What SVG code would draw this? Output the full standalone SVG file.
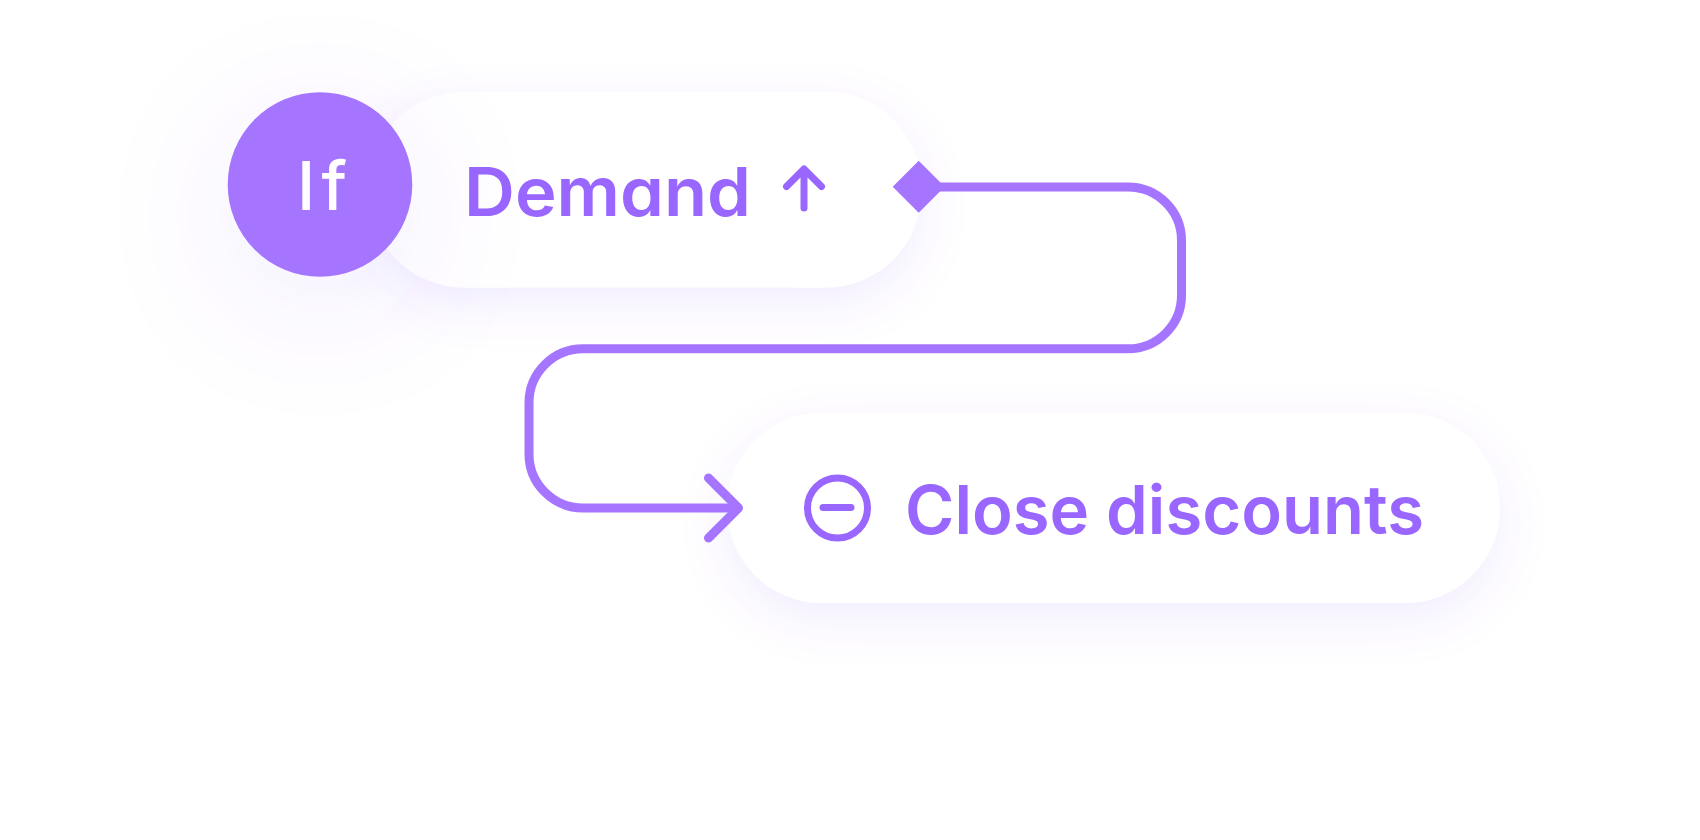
<svg xmlns="http://www.w3.org/2000/svg" width="1700" height="840" viewBox="0 0 1700 840">
<style>
.lbl{font-family:"Inter","Liberation Sans",sans-serif;font-size:67px;font-weight:600;fill:#9966ff;font-feature-settings:"cv11" 1,"ss03" 1}
.ico{fill:none;stroke:#9966ff;stroke-linecap:round;stroke-linejoin:round}
.pill{fill:#fff;filter:url(#soft)}
.conn{fill:none;stroke:#a675ff;stroke-width:9}
</style>
<defs>
<filter id="soft" x="-30%" y="-60%" width="160%" height="240%"><feDropShadow dx="0" dy="16" stdDeviation="24" flood-color="#7a4dff" flood-opacity="0.1"/></filter>
<filter id="wide" x="-120%" y="-120%" width="340%" height="340%"><feDropShadow dx="0" dy="30" stdDeviation="62" flood-color="#7a4dff" flood-opacity="0.1"/></filter>
</defs>
<rect width="1700" height="840" fill="#fff"/>
<g id="node-demand">
<rect class="pill" x="369" y="92" width="552" height="195.500" rx="95" ry="95"/>
<text class="lbl" x="464" y="216" textLength="287" lengthAdjust="spacingAndGlyphs">Demand</text>
<path class="ico" stroke-width="7" d="M804 208V169M786.500 186.500L804 169L821.500 186.500"/>
</g>
<g id="node-if">
<circle cx="320" cy="184.500" r="92.300" fill="#a675ff" filter="url(#wide)"/>
<text x="297" y="210" font-family="Inter,'Liberation Sans',sans-serif" font-size="67" font-weight="500" fill="#fff" textLength="50" lengthAdjust="spacing">If</text>
</g>
<g id="node-close">
<rect class="pill" x="727" y="413" width="773" height="190" rx="95" ry="95"/>
<circle class="ico" cx="837.500" cy="508" r="30" stroke-width="7"/>
<path class="ico" stroke-width="7" d="M823 507.500H851"/>
<text class="lbl" x="905" y="534" textLength="519" lengthAdjust="spacingAndGlyphs">Close discounts</text>
</g>
<g id="connectors">
<path class="conn" d="M918 187H1128A53.500 53.500 0 0 1 1181.500 240.500V295.300A53.500 53.500 0 0 1 1128 348.800H583A54 54 0 0 0 529 402.800V454A54 54 0 0 0 583 508H738"/>
<path d="M918.700 160.700L944.700 186.700L918.700 212.700L892.700 186.700Z" fill="#a675ff"/>
<path d="M708.500 478L738.500 508L708.500 538" fill="none" stroke="#a675ff" stroke-width="9" stroke-linecap="round" stroke-linejoin="round"/>
</g>
</svg>
